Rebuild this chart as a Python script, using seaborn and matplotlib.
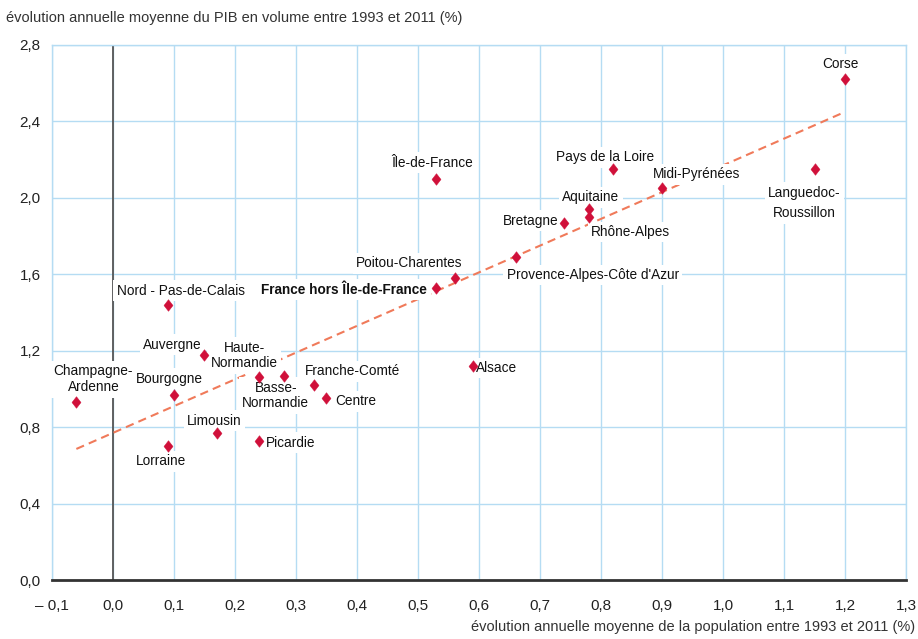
import numpy as np
import pandas as pd
import matplotlib
matplotlib.use("Agg")
import matplotlib.pyplot as plt
import seaborn as sns
from matplotlib.ticker import FuncFormatter, MultipleLocator

# data
REGIONS = ["Corse", "Île-de-France", "Pays de la Loire", "Midi-Pyrénées",
           "Languedoc-\nRoussillon", "Aquitaine", "Bretagne", "Rhône-Alpes",
           "Poitou-Charentes", "France hors Île-de-France",
           "Provence-Alpes-Côte d'Azur", "Nord - Pas-de-Calais", "Auvergne",
           "Haute-\nNormandie", "Basse-\nNormandie", "Champagne-\nArdenne",
           "Bourgogne", "Franche-Comté", "Centre", "Alsace", "Limousin",
           "Picardie", "Lorraine"]
POP_GROWTH = [1.20, 0.53, 0.82, 0.90, 1.15, 0.78, 0.74, 0.78, 0.56, 0.53,
              0.66, 0.09, 0.15, 0.24, 0.28, -0.06, 0.10, 0.33, 0.35, 0.59,
              0.17, 0.24, 0.09]
GDP_GROWTH = [2.62, 2.10, 2.15, 2.05, 2.15, 1.94, 1.87, 1.90, 1.58, 1.53,
              1.69, 1.44, 1.18, 1.06, 1.07, 0.93, 0.97, 1.02, 0.95, 1.12,
              0.77, 0.73, 0.70]
TREND_SLOPE = 1.40
TREND_INTERCEPT = 0.77

XLABEL = "évolution annuelle moyenne de la population entre 1993 et 2011 (%)"
YLABEL = "évolution annuelle moyenne du PIB en volume entre 1993 et 2011 (%)"

# label offsets in pixels (dx, dy) from each marker
OFFSETS = {
    "Corse": (-5, 15), "Île-de-France": (-4, 16), "Pays de la Loire": (-8, 12),
    "Midi-Pyrénées": (35, 14), "Languedoc-\nRoussillon": (-10, -34),
    "Aquitaine": (2, 12), "Bretagne": (-34, 2), "Rhône-Alpes": (42, -15),
    "Poitou-Charentes": (-45, 15), "France hors Île-de-France": (-92, -2),
    "Provence-Alpes-Côte d'Azur": (77, -18), "Nord - Pas-de-Calais": (13, 14),
    "Auvergne": (-32, 10), "Haute-\nNormandie": (-15, 22),
    "Basse-\nNormandie": (-8, -20), "Champagne-\nArdenne": (17, 23),
    "Bourgogne": (-5, 16), "Franche-Comté": (38, 14), "Centre": (29, -3),
    "Alsace": (24, -2), "Limousin": (-2, 12), "Picardie": (31, -2),
    "Lorraine": (-7, -15),
}

MARKER_COLOR = "#d0103a"
TREND_COLOR = "#f07a5a"
GRID_COLOR = "#b5dcf3"
AXIS_COLOR = "#555555"
DIAMOND = [(0, 1), (0.78, 0), (0, -1), (-0.78, 0), (0, 1)]

df = pd.DataFrame({"region": REGIONS, "pop": POP_GROWTH, "gdp": GDP_GROWTH})

sns.set_theme(style="white")
plt.rcParams["font.family"] = ["Liberation Sans Narrow", "Liberation Sans", "DejaVu Sans"]

fig = plt.figure(figsize=(9.18, 6.39), dpi=100)
ax = fig.add_axes([0.0566, 0.0923, 0.987 - 0.0566, 0.9296 - 0.0923])

ax.set_xlim(-0.1, 1.3)
ax.set_ylim(0, 2.8)
ax.xaxis.set_major_locator(MultipleLocator(0.1))
ax.yaxis.set_major_locator(MultipleLocator(0.4))
ax.grid(True, color=GRID_COLOR, linewidth=1.0)
ax.set_axisbelow(True)

for side in ["left", "top", "right"]:
    ax.spines[side].set_color(GRID_COLOR)
    ax.spines[side].set_linewidth(1.0)
ax.spines["bottom"].set_color("#333333")
ax.spines["bottom"].set_linewidth(2.0)
ax.axvline(0, color=AXIS_COLOR, linewidth=1.3, zorder=1)

# trend line
xs = np.array([min(POP_GROWTH), max(POP_GROWTH)])
ax.plot(xs, TREND_INTERCEPT + TREND_SLOPE * xs, color=TREND_COLOR,
        linestyle=(0, (4, 2.5)), linewidth=1.5, zorder=2)

sns.scatterplot(data=df, x="pop", y="gdp", ax=ax, marker=DIAMOND, s=70,
                color=MARKER_COLOR, edgecolor=MARKER_COLOR, linewidth=0.3,
                zorder=4, legend=False)

for _, row in df.iterrows():
    dx, dy = OFFSETS[row["region"]]
    bold = row["region"] == "France hors Île-de-France"
    spacing = 1.6 if row["region"].startswith("Languedoc") else 1.15
    ax.annotate(row["region"], xy=(row["pop"], row["gdp"]),
                xytext=(dx, dy), textcoords="offset pixels",
                ha="center", va="center", fontsize=9.8,
                fontweight="bold" if bold else "normal",
                color="#111111", linespacing=spacing, zorder=3,
                bbox=dict(boxstyle="square,pad=0.25", fc="white", ec="none"))


def fr_fmt(v, pos):
    s = f"{abs(v):.1f}".replace(".", ",")
    return ("– " + s) if v < -1e-9 else s


ax.xaxis.set_major_formatter(FuncFormatter(fr_fmt))
ax.yaxis.set_major_formatter(FuncFormatter(fr_fmt))
ax.tick_params(axis="both", length=0, labelsize=11, colors="#222222")
ax.tick_params(axis="x", pad=14)
ax.tick_params(axis="y", pad=8)
ax.set_xlabel("")
ax.set_ylabel("")

fig.text(0.006, 0.972, YLABEL, ha="left", va="center", fontsize=10.5, color="#333333")
fig.text(0.997, 0.018, XLABEL, ha="right", va="center", fontsize=10.5, color="#333333")

plt.savefig("out.png", dpi=100)
plt.close()
